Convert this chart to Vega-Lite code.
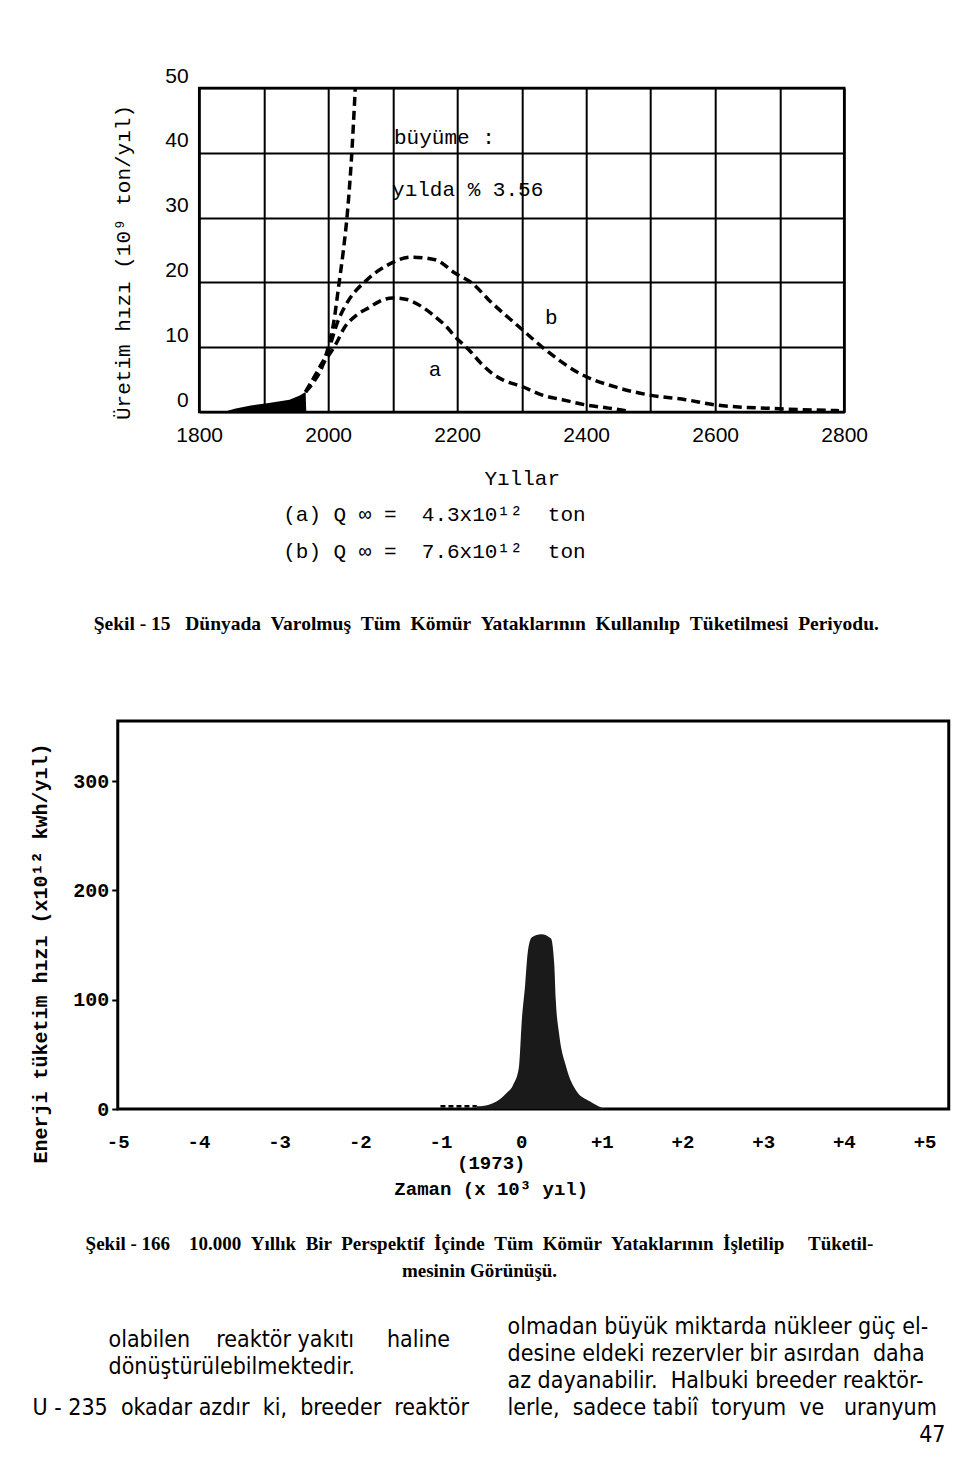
{
  "$schema": "https://vega.github.io/schema/vega-lite/v6.json",
  "background": "white",
  "padding": {"left": 29, "top": 63, "right": 0, "bottom": 0},
  "center": true,
  "spacing": 35,
  "config": {"view": {"stroke": null}, "font": "Liberation Sans"},
  "datasets": {
    "komur": [
      {"seri": "tarihsel", "yil": 1838, "deger": 0},
      {"seri": "tarihsel", "yil": 1855, "deger": 0.5},
      {"seri": "tarihsel", "yil": 1880, "deger": 1.0},
      {"seri": "tarihsel", "yil": 1908, "deger": 1.4},
      {"seri": "tarihsel", "yil": 1940, "deger": 1.9},
      {"seri": "tarihsel", "yil": 1955, "deger": 2.5},
      {"seri": "tarihsel", "yil": 1965, "deger": 3.1},
      {"seri": "tarihsel", "yil": 1966, "deger": 0},
      {"seri": "üstel", "yil": 1965, "deger": 3.1},
      {"seri": "üstel", "yil": 1980, "deger": 5.0},
      {"seri": "üstel", "yil": 1990, "deger": 6.8},
      {"seri": "üstel", "yil": 2000, "deger": 10},
      {"seri": "üstel", "yil": 2008, "deger": 13.5},
      {"seri": "üstel", "yil": 2017, "deger": 20},
      {"seri": "üstel", "yil": 2023, "deger": 24.5},
      {"seri": "üstel", "yil": 2030, "deger": 31},
      {"seri": "üstel", "yil": 2036, "deger": 39},
      {"seri": "üstel", "yil": 2042, "deger": 50},
      {"seri": "a", "yil": 1965, "deger": 3.1},
      {"seri": "a", "yil": 1985, "deger": 6.4},
      {"seri": "a", "yil": 2000, "deger": 8.6},
      {"seri": "a", "yil": 2012, "deger": 10.5},
      {"seri": "a", "yil": 2025, "deger": 13},
      {"seri": "a", "yil": 2042, "deger": 14.8},
      {"seri": "a", "yil": 2063, "deger": 16.1},
      {"seri": "a", "yil": 2085, "deger": 17.3},
      {"seri": "a", "yil": 2100, "deger": 17.6},
      {"seri": "a", "yil": 2120, "deger": 17.4},
      {"seri": "a", "yil": 2146, "deger": 16.2},
      {"seri": "a", "yil": 2166, "deger": 14.7},
      {"seri": "a", "yil": 2182, "deger": 13.3},
      {"seri": "a", "yil": 2197, "deger": 11.6},
      {"seri": "a", "yil": 2218, "deger": 9.6},
      {"seri": "a", "yil": 2239, "deger": 7.3},
      {"seri": "a", "yil": 2255, "deger": 5.9},
      {"seri": "a", "yil": 2270, "deger": 5.0},
      {"seri": "a", "yil": 2301, "deger": 3.9},
      {"seri": "a", "yil": 2332, "deger": 2.6},
      {"seri": "a", "yil": 2363, "deger": 1.9},
      {"seri": "a", "yil": 2399, "deger": 1.1},
      {"seri": "a", "yil": 2435, "deger": 0.6},
      {"seri": "a", "yil": 2467, "deger": 0.1},
      {"seri": "b", "yil": 1965, "deger": 3.1},
      {"seri": "b", "yil": 1985, "deger": 6.6},
      {"seri": "b", "yil": 2000, "deger": 9.5},
      {"seri": "b", "yil": 2015, "deger": 14},
      {"seri": "b", "yil": 2032, "deger": 17.3},
      {"seri": "b", "yil": 2058, "deger": 20.2},
      {"seri": "b", "yil": 2089, "deger": 22.5},
      {"seri": "b", "yil": 2130, "deger": 23.9},
      {"seri": "b", "yil": 2166, "deger": 23.5},
      {"seri": "b", "yil": 2197, "deger": 21.4},
      {"seri": "b", "yil": 2223, "deger": 19.9},
      {"seri": "b", "yil": 2249, "deger": 17.3},
      {"seri": "b", "yil": 2301, "deger": 12.7},
      {"seri": "b", "yil": 2337, "deger": 9.6},
      {"seri": "b", "yil": 2389, "deger": 6.0},
      {"seri": "b", "yil": 2451, "deger": 3.7},
      {"seri": "b", "yil": 2499, "deger": 2.6},
      {"seri": "b", "yil": 2554, "deger": 1.9},
      {"seri": "b", "yil": 2600, "deger": 1.1},
      {"seri": "b", "yil": 2699, "deger": 0.5},
      {"seri": "b", "yil": 2792, "deger": 0.2}
    ],
    "etiketler": [
      {"yil": 2102, "deger": 42.3, "metin": "büyüme :"},
      {"yil": 2099, "deger": 34.3, "metin": "yılda % 3.56"},
      {"yil": 2156, "deger": 6.5, "metin": "a"},
      {"yil": 2336, "deger": 14.5, "metin": "b"}
    ],
    "enerji": [
      {"seri": "kesik", "t": -1.0, "v": 2.5},
      {"seri": "kesik", "t": -0.55, "v": 2.5},
      {"seri": "tepe", "t": -0.55, "v": 2.5},
      {"seri": "tepe", "t": -0.4, "v": 4},
      {"seri": "tepe", "t": -0.3, "v": 7},
      {"seri": "tepe", "t": -0.19, "v": 14},
      {"seri": "tepe", "t": -0.1, "v": 22},
      {"seri": "tepe", "t": -0.03, "v": 37},
      {"seri": "tepe", "t": 0.01, "v": 83},
      {"seri": "tepe", "t": 0.05, "v": 114},
      {"seri": "tepe", "t": 0.08, "v": 142},
      {"seri": "tepe", "t": 0.13, "v": 157},
      {"seri": "tepe", "t": 0.25, "v": 160},
      {"seri": "tepe", "t": 0.37, "v": 156},
      {"seri": "tepe", "t": 0.41, "v": 133},
      {"seri": "tepe", "t": 0.43, "v": 99},
      {"seri": "tepe", "t": 0.47, "v": 69},
      {"seri": "tepe", "t": 0.56, "v": 38},
      {"seri": "tepe", "t": 0.69, "v": 16},
      {"seri": "tepe", "t": 0.85, "v": 7},
      {"seri": "tepe", "t": 1.01, "v": 1},
      {"seri": "tepe", "t": 1.1, "v": 0}
    ],
    "metin": [
      {"sutun": 1, "satir": 0.5, "metin": "olabilen\u00a0\u00a0\u00a0 reaktör yakıtı\u00a0\u00a0\u00a0\u00a0 haline"},
      {"sutun": 1, "satir": 1.5, "metin": "dönüştürülebilmektedir."},
      {"sutun": 0, "satir": 3, "metin": "U - 235 \u00a0okadar azdır \u00a0ki, \u00a0breeder \u00a0reaktör"},
      {"sutun": 2, "satir": 0, "metin": "olmadan büyük miktarda nükleer güç el-"},
      {"sutun": 2, "satir": 1, "metin": "desine eldeki rezervler bir asırdan \u00a0daha"},
      {"sutun": 2, "satir": 2, "metin": "az dayanabilir. \u00a0Halbuki breeder reaktör-"},
      {"sutun": 2, "satir": 3, "metin": "lerle, \u00a0sadece tabiî \u00a0toryum \u00a0ve \u00a0\u00a0uranyum"},
      {"sutun": 3, "satir": 4, "metin": "47"}
    ]
  },
  "vconcat": [
    {
      "width": 645,
      "height": 324,
      "view": {"stroke": "black", "strokeWidth": 2.5},
      "title": {
        "text": ["(a) Q ∞ = \u00a04.3x10¹² \u00a0ton", "(b) Q ∞ = \u00a07.6x10¹² \u00a0ton"],
        "subtitle": "\u00a0",
        "subtitleFontSize": 2,
        "subtitlePadding": 11,
        "orient": "bottom",
        "frame": "group",
        "anchor": "start",
        "align": "left",
        "dx": 84,
        "offset": 16,
        "font": "Liberation Mono",
        "fontSize": 21,
        "fontWeight": "normal",
        "lineHeight": 37,
        "color": "black"
      },
      "layer": [
        {
          "data": {"name": "komur"},
          "transform": [{"filter": "datum.seri === 'tarihsel'"}],
          "mark": {"type": "area", "color": "black"},
          "encoding": {
            "x": {
              "field": "yil", "type": "quantitative",
              "scale": {"domain": [1800, 2800], "nice": false, "zero": false},
              "axis": {
                "values": [1800, 1900, 2000, 2100, 2200, 2300, 2400, 2500, 2600, 2700, 2800],
                "format": "d",
                "labelExpr": "datum.value % 200 === 0 ? datum.label : ''",
                "grid": true, "gridColor": "black", "gridWidth": 2, "gridOpacity": 1,
                "ticks": false, "domain": false,
                "labelFlush": false, "labelOverlap": false,
                "labelFont": "Liberation Sans", "labelFontSize": 21, "labelColor": "black", "labelPadding": 12,
                "title": "Yıllar", "titleFont": "Liberation Mono", "titleFontSize": 21,
                "titleFontWeight": "normal", "titleColor": "black", "titlePadding": 22
              }
            },
            "y": {
              "field": "deger", "type": "quantitative",
              "scale": {"domain": [0, 50], "nice": false},
              "axis": {
                "values": [0, 10, 20, 30, 40, 50],
                "grid": true, "gridColor": "black", "gridWidth": 2, "gridOpacity": 1,
                "ticks": false, "domain": false,
                "labelFont": "Liberation Sans", "labelFontSize": 21, "labelColor": "black",
                "labelPadding": 11, "labelOffset": -12,
                "title": "Üretim hızı (10⁹ ton/yıl)", "titleFont": "Liberation Mono", "titleFontSize": 21,
                "titleFontWeight": "normal", "titleColor": "black", "titlePadding": 31, "titleY": 174
              }
            }
          }
        },
        {
          "data": {"name": "komur"},
          "transform": [{"filter": "datum.seri !== 'tarihsel'"}],
          "mark": {"type": "line", "color": "black", "strokeWidth": 3.5, "strokeDash": [9, 5], "interpolate": "monotone", "clip": true},
          "encoding": {
            "x": {"field": "yil", "type": "quantitative"},
            "y": {"field": "deger", "type": "quantitative"},
            "detail": {"field": "seri"}
          }
        },
        {
          "data": {"name": "etiketler"},
          "mark": {"type": "text", "align": "left", "baseline": "middle", "font": "Liberation Mono", "fontSize": 21, "color": "black"},
          "encoding": {
            "x": {"field": "yil", "type": "quantitative"},
            "y": {"field": "deger", "type": "quantitative"},
            "text": {"field": "metin"}
          }
        }
      ]
    },
    {
      "width": 831,
      "height": 388,
      "view": {"stroke": "black", "strokeWidth": 3},
      "title": {
        "text": "Şekil - 15 \u00a0\u00a0Dünyada \u00a0Varolmuş \u00a0Tüm \u00a0Kömür \u00a0Yataklarının \u00a0Kullanılıp \u00a0Tüketilmesi \u00a0Periyodu.",
        "orient": "top",
        "anchor": "middle",
        "dx": -47,
        "offset": 87,
        "font": "Liberation Serif",
        "fontSize": 19.5,
        "fontWeight": "bold",
        "color": "black"
      },
      "data": {"name": "enerji"},
      "layer": [
        {
          "transform": [{"filter": "datum.seri === 'tepe'"}],
          "mark": {"type": "area", "color": "#1a1a1a", "interpolate": "monotone"},
          "encoding": {
            "x": {
              "field": "t", "type": "quantitative",
              "scale": {"domain": [-5, 5.3], "nice": false, "zero": false},
              "axis": {
                "values": [-5, -4, -3, -2, -1, 0, 1, 2, 3, 4, 5],
                "labelExpr": "datum.value > 0 ? '+' + datum.value : '' + datum.value",
                "grid": false, "ticks": false, "domain": false,
                "labelFlush": false, "labelOverlap": false,
                "labelFont": "Liberation Mono", "labelFontSize": 19, "labelFontWeight": "bold",
                "labelColor": "black", "labelPadding": 23,
                "title": ["(1973)", "Zaman (x 10³ yıl)"],
                "titleFont": "Liberation Mono", "titleFontSize": 19, "titleFontWeight": "bold",
                "titleColor": "black", "titleLineHeight": 26, "titleX": 373, "titlePadding": 2
              }
            },
            "y": {
              "field": "v", "type": "quantitative",
              "scale": {"domain": [0, 355], "nice": false},
              "axis": {
                "values": [0, 100, 200, 300],
                "grid": false, "domain": false,
                "ticks": true, "tickSize": 6, "tickWidth": 2, "tickColor": "black",
                "labelFont": "Liberation Mono", "labelFontSize": 20, "labelFontWeight": "bold",
                "labelColor": "black", "labelPadding": 3,
                "title": "Enerji tüketim hızı (x10¹² kwh/yıl)",
                "titleFont": "Liberation Mono", "titleFontSize": 20, "titleFontWeight": "bold",
                "titleColor": "black", "titlePadding": 22, "titleY": 232
              }
            }
          }
        },
        {
          "transform": [{"filter": "datum.seri === 'kesik'"}],
          "mark": {"type": "line", "color": "black", "strokeWidth": 2.5, "strokeDash": [5, 3]},
          "encoding": {
            "x": {"field": "t", "type": "quantitative"},
            "y": {"field": "v", "type": "quantitative"}
          }
        }
      ]
    },
    {
      "width": 940,
      "height": 136,
      "title": {
        "text": ["Şekil - 166 \u00a0\u00a0\u00a010.000 \u00a0Yıllık \u00a0Bir \u00a0Perspektif \u00a0İçinde \u00a0Tüm \u00a0Kömür \u00a0Yataklarının \u00a0İşletilip \u00a0\u00a0\u00a0\u00a0Tüketil-", "mesinin Görünüşü."],
        "orient": "top",
        "anchor": "middle",
        "dx": -54.5,
        "offset": 32,
        "font": "Liberation Serif",
        "fontSize": 19,
        "fontWeight": "bold",
        "lineHeight": 27,
        "color": "black"
      },
      "data": {"name": "metin"},
      "layer": [
        {
          "transform": [{"filter": "datum.sutun < 3"}],
          "mark": {"type": "text", "align": "left", "baseline": "middle", "font": "Liberation Sans Narrow, DejaVu Sans Condensed, sans-serif", "fontSize": 23, "color": "black"},
          "encoding": {
            "x": {"field": "sutun", "type": "quantitative", "scale": {"domain": [0, 1, 2, 3], "range": [-31.5, 44.5, 443.5, 881.5]}, "axis": null},
            "y": {"field": "satir", "type": "quantitative", "scale": {"domain": [-0.5, 4.5], "reverse": true, "nice": false, "zero": false}, "axis": null},
            "text": {"field": "metin"}
          }
        },
        {
          "transform": [{"filter": "datum.sutun === 3"}],
          "mark": {"type": "text", "align": "right", "baseline": "middle", "font": "Liberation Sans Narrow, DejaVu Sans Condensed, sans-serif", "fontSize": 23, "color": "black"},
          "encoding": {
            "x": {"field": "sutun", "type": "quantitative"},
            "y": {"field": "satir", "type": "quantitative"},
            "text": {"field": "metin"}
          }
        }
      ]
    }
  ]
}
